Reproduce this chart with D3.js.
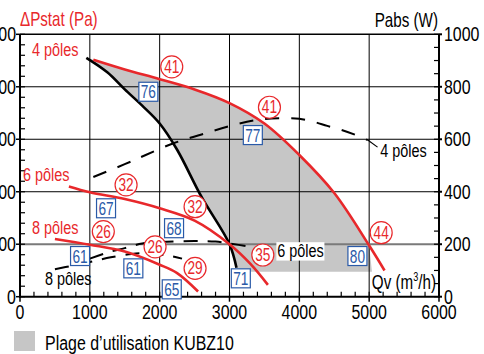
<!DOCTYPE html>
<html><head><meta charset="utf-8">
<script src="https://cdn.jsdelivr.net/npm/d3@7"></script>
<style>
body{margin:0;background:#fff}
svg{display:block}
text{font-family:"Liberation Sans",Arial,sans-serif}
</style></head><body>
<svg id="c" width="484" height="354"></svg>
<script>
// ---- data ----
const xTicks = [0,1000,2000,3000,4000,5000,6000];
const yTicksLeft = [0,200,400,600,800,1000];
const yTicksRight = [0,200,400,600,800,1000];
// pressure curves [Qv m3/h, ΔPstat Pa]
const red4 = [[1050,903],[1500,866],[2000,829],[2500,790],[3000,738],[3500,660],[4000,540],[4500,395],[5000,195],[5220,100]];
const red6 = [[700,420],[1000,398],[1500,372],[2000,337],[2500,290],[3000,200],[3300,125],[3550,45]];
const red8 = [[500,220],[1000,198],[1500,172],[2000,122],[2250,90],[2550,20]];
const limitCurve = [[950,910],[1250,855],[1500,790],[1750,728],[2000,660],[2250,560],[2600,380],[3000,200],[3100,110]];
// power curves [Qv, Pabs W]
const pow4 = [[1050,456],[1500,505],[1800,540],[2200,585],[2600,618],[3000,650],[3400,674],[3800,680],[4000,678],[4200,667],[4400,651],[4600,636],[4800,617],[4980,597]];
const pow6 = [[1000,145],[1250,168],[1500,185],[1750,203],[2000,208],[2500,212],[2800,210],[3000,203],[3300,190]];
const pow8 = [[500,105],[750,118],[1050,135],[1300,150],[1600,163],[1850,165],[2170,154],[2320,145]];
const leader4 = [[4980,597],[5120,570]];
// usage range limits
const rangeBottom = 95;
const rangeRight = 5040;
// efficiency labels (circles) [Qv, P, text]
const effLabels = [[2173,876,"41"],[3572,722,"41"],[1519,426,"32"],[2507,343,"32"],[1193,248,"26"],[1934,190,"26"],[2507,108,"29"],[3477,159,"35"],[5172,244,"44"]];
// sound labels (boxes)
const soundLabels = [[1838,781,"76"],[3334,616,"77"],[1232,337,"67"],[2206,261,"68"],[860,155,"61"],[1623,108,"61"],[2173,28,"65"],[3162,70,"71"],[4832,155,"80"]];
// curve names
const redNames = [[172,916,"4 pôles"],[43,441,"6 pôles"],[172,239,"8 pôles"]];
const blackNames = [[358,45,"8 pôles",false],[5157,532,"4 pôles",false],[3682,151,"6 pôles",true]];

// ---- drawing ----
const svg = d3.select("#c");
const x = d3.scaleLinear().domain([0,6000]).range([20,439]);
const y = d3.scaleLinear().domain([0,1000]).range([296.7,34.3]);
const RED = "#e8282b", BLUE = "#2a5aa8", SX = 0.76;
const line = d3.line().x(d=>x(d[0])).y(d=>y(d[1])).curve(d3.curveCatmullRom.alpha(0.5));

function T(parent, px, py, str, o){
  o = o||{};
  const gg = parent.append("g").attr("transform",`translate(${px},${py}) scale(${o.sx||SX},1)`);
  const t = gg.append("text").attr("text-anchor",o.anchor||"start").attr("fill",o.fill||"#000").attr("font-size",o.size||20);
  if(str!==null) t.text(str);
  return {g:gg,t:t};
}

// gray area
const upper = red4.filter(d=>d[0]<=rangeRight).slice().reverse();
let areaPath = line(limitCurve)
  + "L" + x(limitCurve[limitCurve.length-1][0]+10) + "," + y(rangeBottom)
  + "L" + x(rangeRight) + "," + y(rangeBottom)
  + "L" + line(upper).slice(1) + "Z";
svg.append("path").attr("d", areaPath).attr("fill","#c6c6c6");

// grid
const g = svg.append("g");
[1000,2000,3000,4000,5000].forEach(v=>{
  g.append("line").attr("x1",x(v)).attr("x2",x(v)).attr("y1",y(0)).attr("y2",y(1000)).attr("stroke","#000").attr("stroke-width",1);
});
[200,400,600,800].forEach(v=>{
  g.append("line").attr("x1",x(0)).attr("x2",x(6000)).attr("y1",y(v)).attr("y2",y(v))
   .attr("stroke", v===200?"#7a7a7a":"#000").attr("stroke-width", v===200?2:1);
});
g.append("line").attr("x1",x(0)).attr("x2",x(6000)).attr("y1",y(1000)).attr("y2",y(1000)).attr("stroke","#000").attr("stroke-width",1.5);

// axes lines + ticks
const ax = svg.append("g").attr("stroke","#000");
ax.append("line").attr("x1",x(0)).attr("x2",x(0)).attr("y1",y(0)+1).attr("y2",y(1000)).attr("stroke-width",2);
ax.append("line").attr("x1",x(6000)).attr("x2",x(6000)).attr("y1",y(0)+1).attr("y2",y(1000)).attr("stroke-width",2);
ax.append("line").attr("x1",x(0)-1).attr("x2",x(6000)+1).attr("y1",y(0)).attr("y2",y(0)).attr("stroke-width",2);
d3.range(0,1001,40).forEach(v=>{ ax.append("line").attr("x1",x(0)).attr("x2",x(0)+5).attr("y1",y(v)).attr("y2",y(v)).attr("stroke-width",1.2); });
yTicksLeft.forEach(v=>{ ax.append("line").attr("x1",x(0)-4).attr("x2",x(0)).attr("y1",y(v)).attr("y2",y(v)).attr("stroke-width",1.5); });
d3.range(0,1001,50).forEach(v=>{ ax.append("line").attr("x1",x(6000)-5).attr("x2",x(6000)).attr("y1",y(v)).attr("y2",y(v)).attr("stroke-width",1.2); });
yTicksRight.forEach(v=>{ ax.append("line").attr("x1",x(6000)).attr("x2",x(6000)+3).attr("y1",y(v)).attr("y2",y(v)).attr("stroke-width",2); });
d3.range(0,6001,200).forEach(v=>{ ax.append("line").attr("x1",x(v)).attr("x2",x(v)).attr("y1",y(0)).attr("y2",y(0)-5).attr("stroke-width",1.2); });
xTicks.forEach(v=>{ ax.append("line").attr("x1",x(v)).attr("x2",x(v)).attr("y1",y(0)).attr("y2",y(0)+5).attr("stroke-width",1.5); });

// tick labels
xTicks.forEach(v=>T(svg, x(v), 319, String(v), {anchor:"middle", size:21}));
yTicksLeft.forEach(v=>T(svg, 16, y(v)+7, String(v), {anchor:"end", size:21}));
yTicksRight.forEach(v=>T(svg, 444, y(v)+7, String(v), {anchor:"start", size:21}));

// curves
const curves = svg.append("g").attr("fill","none");
curves.append("path").attr("d",line(pow4)).attr("stroke","#000").attr("stroke-width",2).attr("stroke-dasharray","14,12");
curves.append("path").attr("d",line(leader4)).attr("stroke","#000").attr("stroke-width",1.2);
curves.append("path").attr("d",line(pow6)).attr("stroke","#000").attr("stroke-width",2).attr("stroke-dasharray","14,10");
curves.append("path").attr("d",line(pow8)).attr("stroke","#000").attr("stroke-width",2).attr("stroke-dasharray","14,10");
curves.append("path").attr("d",line(limitCurve)).attr("stroke","#000").attr("stroke-width",2.6);
[red4,red6,red8].forEach(c=>curves.append("path").attr("d",line(c)).attr("stroke",RED).attr("stroke-width",2.6));

// curve names
redNames.forEach(d=>T(svg, x(d[0]), y(d[1]), d[2], {fill:RED, size:19}));
blackNames.forEach(d=>{
  const r = T(svg, x(d[0]), y(d[1]), d[2], {size:19});
  if(d[3]){ const b=r.t.node().getBBox(); r.g.insert("rect","text").attr("x",b.x-1).attr("y",b.y+2).attr("width",b.width+2).attr("height",b.height-3).attr("fill","#fff"); }
});

// circles
effLabels.forEach(d=>{
  const gg = svg.append("g").attr("transform",`translate(${x(d[0])},${y(d[1])})`);
  gg.append("circle").attr("r",11).attr("fill","#fff").attr("stroke",RED).attr("stroke-width",1.2);
  T(gg, 0, 6, d[2], {anchor:"middle", fill:RED, size:18});
});
// boxes
soundLabels.forEach(d=>{
  const gg = svg.append("g").attr("transform",`translate(${x(d[0])},${y(d[1])})`);
  gg.append("rect").attr("x",-9.5).attr("y",-9.5).attr("width",19).attr("height",19).attr("fill","#fff").attr("stroke",BLUE).attr("stroke-width",1.2);
  T(gg, 0, 6.5, d[2], {anchor:"middle", fill:BLUE, size:18});
});

// axis titles
T(svg, 20, 26, "ΔPstat (Pa)", {fill:RED, size:20});
T(svg, 438, 27, "Pabs (W)", {anchor:"end", size:20});
const qv = T(svg, 436, 289, null, {anchor:"end", size:20}).t;
qv.append("tspan").text("Qv (m");
qv.append("tspan").attr("font-size",12).attr("dy",-8).text("3");
qv.append("tspan").attr("dy",8).text("/h)");

// legend
svg.append("rect").attr("x",14).attr("y",331).attr("width",21).attr("height",20).attr("fill","#c6c6c6");
T(svg, 45, 350, "Plage d’utilisation KUBZ10", {size:21});
</script>
</body></html>
